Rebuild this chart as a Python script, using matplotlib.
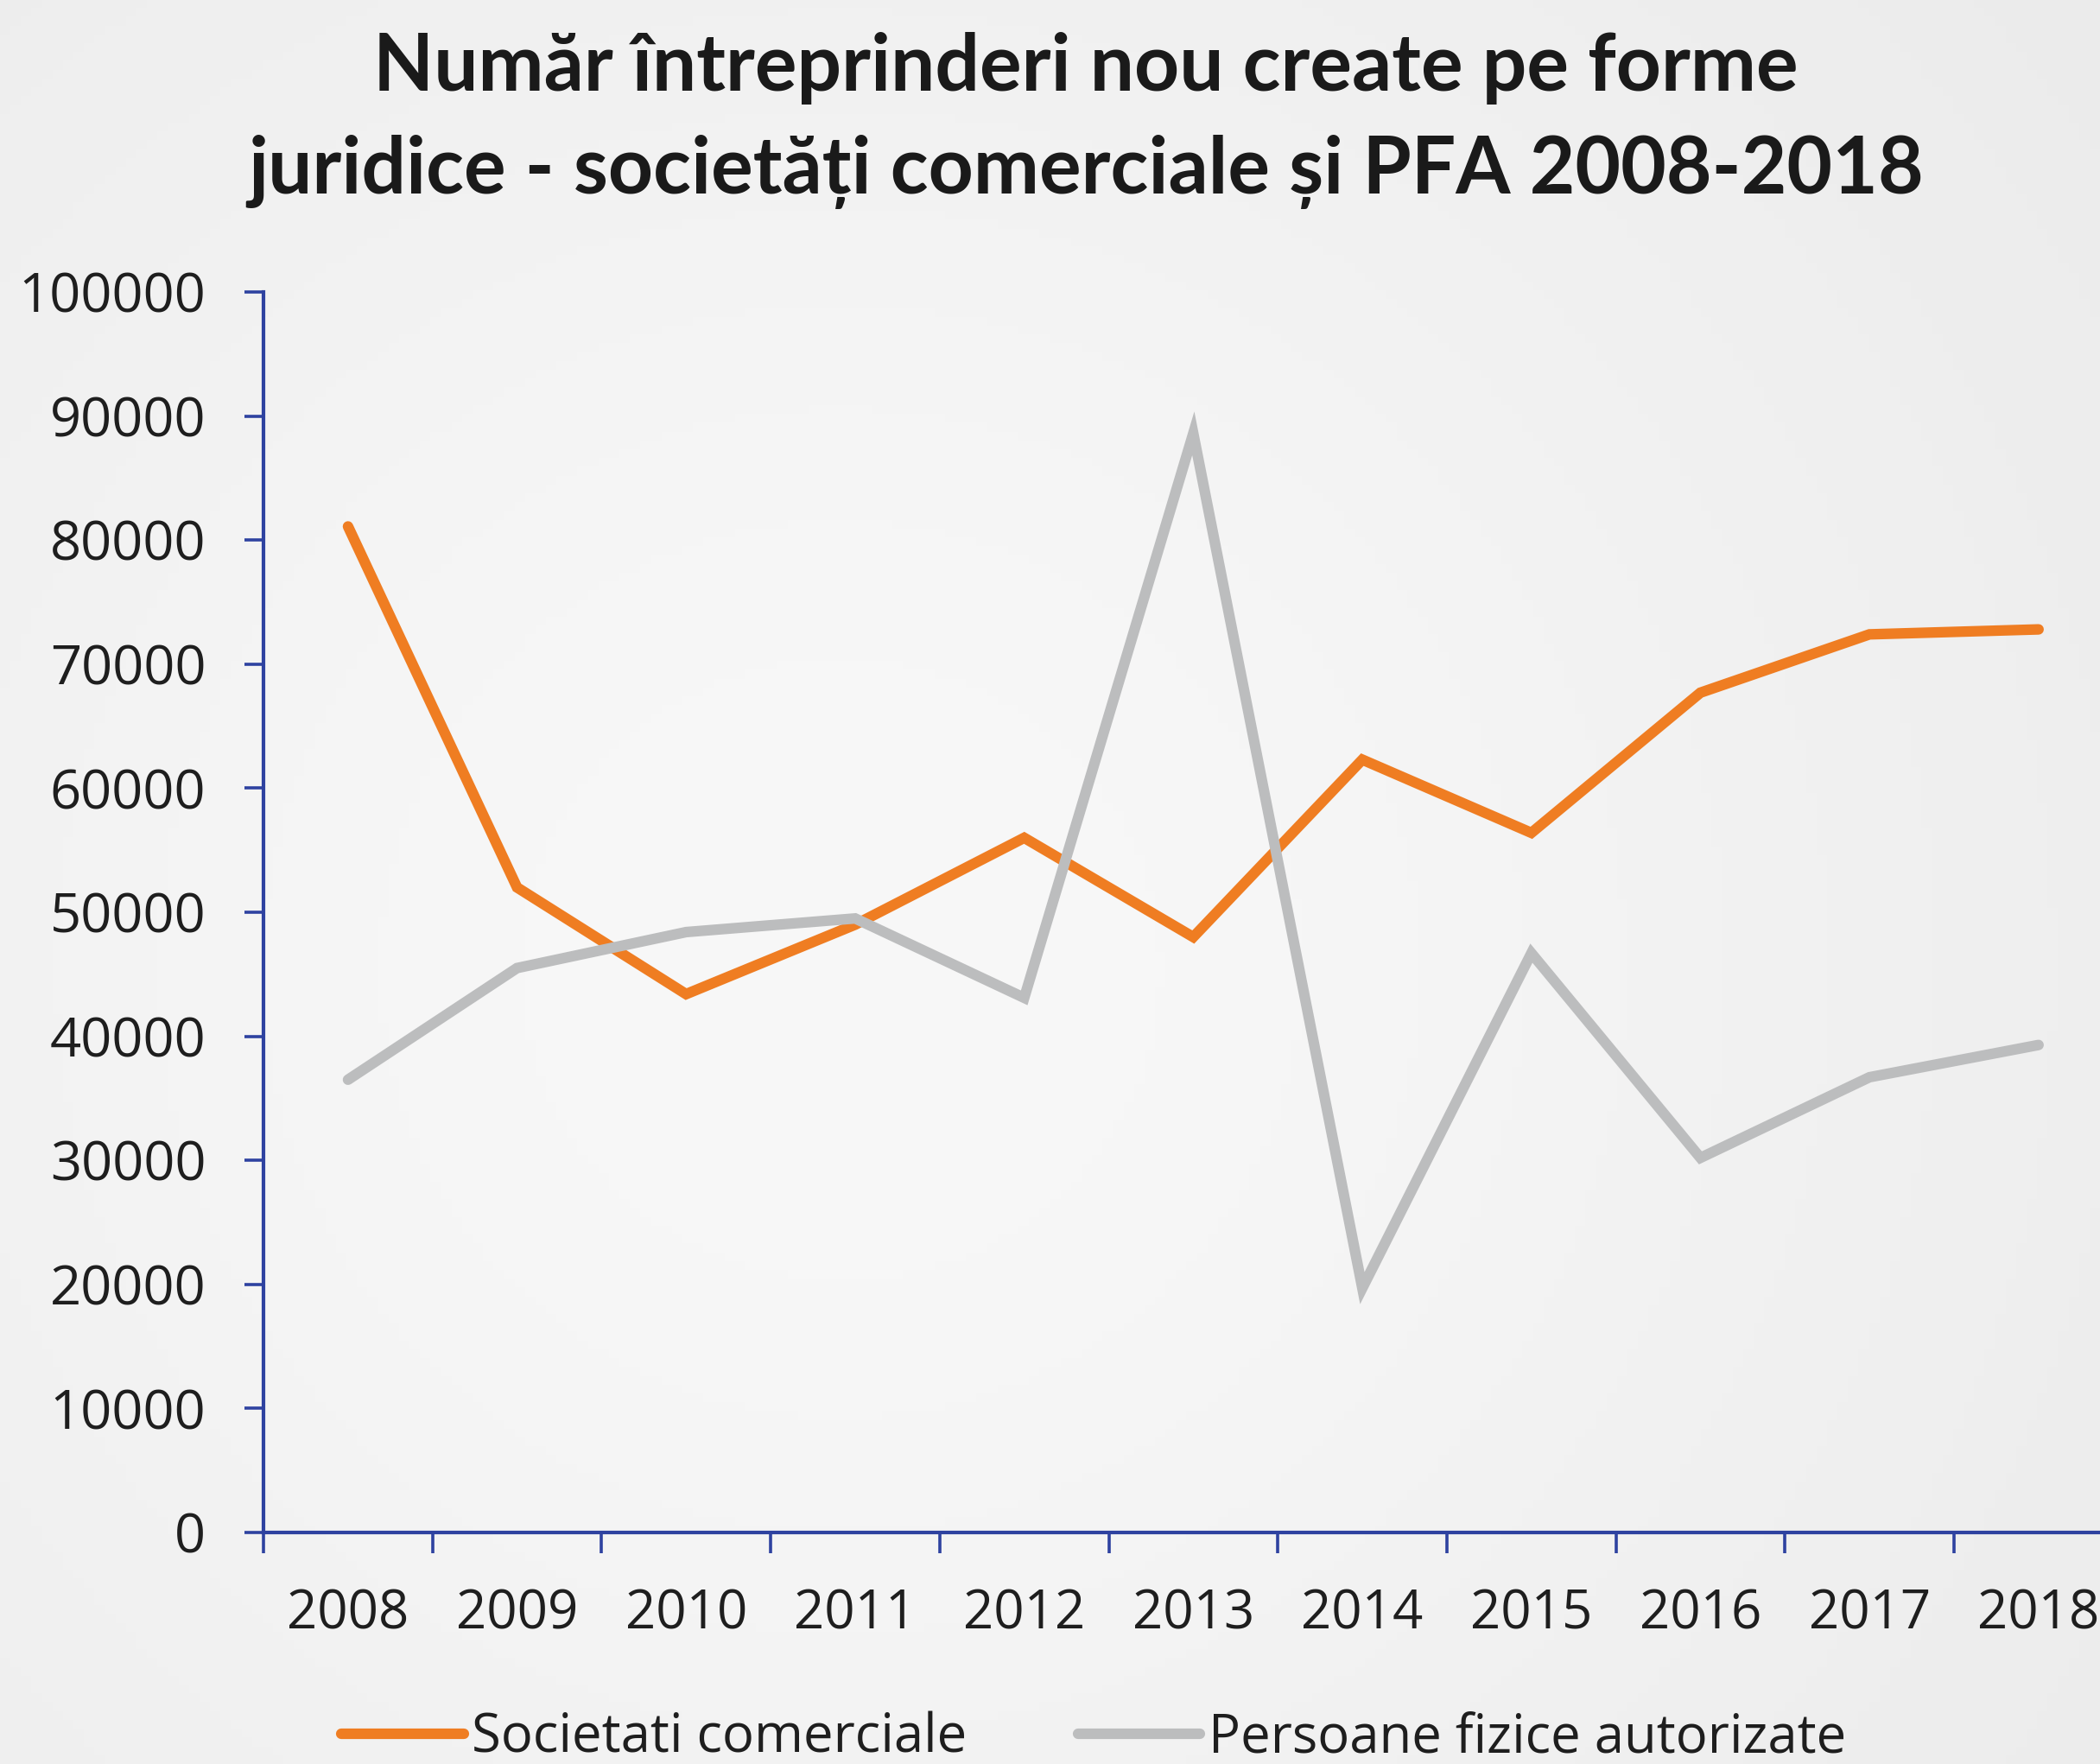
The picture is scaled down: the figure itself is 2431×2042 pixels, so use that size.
import matplotlib.pyplot as plt
import numpy as np

# ── Data ──────────────────────────────────────────────────────────────────────
years = ["2008", "2009", "2010", "2011", "2012", "2013",
         "2014", "2015", "2016", "2017", "2018"]
societati = [81100, 52000, 43400, 49000, 56000, 48000,
             62300, 56400, 67700, 72400, 72800]
pfa = [36500, 45500, 48400, 49500, 43100, 88600,
       19700, 46700, 30200, 36700, 39300]

TITLE_1 = "Număr întreprinderi nou create pe forme"
TITLE_2 = "juridice - societăți comerciale și PFA 2008-2018"

# ── Style ─────────────────────────────────────────────────────────────────────
ORANGE = "#ef7d22"
GREY   = "#bcbdbe"
AXIS   = "#2e42a0"
BG     = "#eeeded"

W, H, DPI = 2431, 2042, 100
fig = plt.figure(figsize=(W / DPI, H / DPI), dpi=DPI, facecolor=BG)

# soft background shading, a bit lighter around the plot centre
bg = fig.add_axes([0, 0, 1, 1], zorder=-10)
gy, gx = np.mgrid[0:1:200j, 0:1:200j]
shade = np.exp(-((gx - 0.4) ** 2 / 0.3 + (gy - 0.55) ** 2 / 0.4))
bg.imshow(shade, cmap="Greys_r", vmin=-8.0, vmax=1.6, aspect="auto",
          extent=[0, 1, 0, 1])
bg.set_axis_off()

left, bottom = 305 / W, 1 - 1774 / H
ax = fig.add_axes([left, bottom, 1 - left, (1774 - 338) / H])
ax.set_facecolor("none")

x = np.arange(len(years))
step = 195.7  # px per category
ax.plot(x, societati, color=ORANGE, lw=8.8, solid_capstyle="round",
        solid_joinstyle="miter", label="Societati comerciale", zorder=3)
ax.plot(x, pfa, color=GREY, lw=8.8, solid_capstyle="round",
        solid_joinstyle="miter", label="Persoane fizice autorizate", zorder=4)

ax.set_yticks(range(0, 100001, 10000))
ax.set_xticks(x)
ax.set_xticklabels(years)
ax.set_xticks(np.arange(-0.5, 10.6, 1.0), minor=True)
ax.set_xlim(-0.5, -0.5 + (W - 305) / step)
ax.set_ylim(0, 100000)

for side in ("top", "right"):
    ax.spines[side].set_visible(False)
for side in ("left", "bottom"):
    ax.spines[side].set_color(AXIS)
    ax.spines[side].set_linewidth(3.0)

ax.tick_params(axis="y", direction="out", length=16, width=2.6, color=AXIS,
               pad=32, labelsize=45.5, labelcolor="#1e1e1e")
ax.tick_params(axis="x", which="major", length=0, pad=46,
               labelsize=44.5, labelcolor="#1e1e1e")
ax.tick_params(axis="x", which="minor", direction="out", length=17, width=2.6,
               color=AXIS)
for lab in ax.get_xticklabels() + ax.get_yticklabels():
    lab.set_fontfamily("Open Sans")

for txt, base in ((TITLE_1, 105), (TITLE_2, 224)):
    fig.text(1257 / W, 1 - base / H, txt, ha="center", va="baseline",
             fontsize=65.5, fontweight="bold", family="Lato", color="#1a1a1a")

leg = fig.legend(loc="center left", bbox_to_anchor=(395 / W, 1 - 2012 / H),
                 ncol=2, frameon=False, handlelength=2.3, handletextpad=0.15,
                 columnspacing=2.08, borderaxespad=0, borderpad=0,
                 prop={"family": "Open Sans", "size": 44.4})
for t in leg.get_texts():
    t.set_color("#1e1e1e")

fig.savefig("out.png", dpi=DPI, facecolor=BG)
